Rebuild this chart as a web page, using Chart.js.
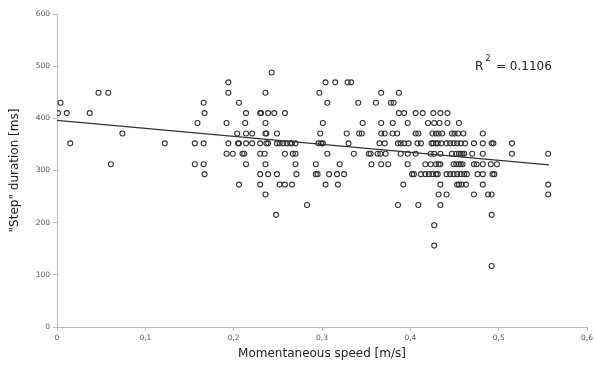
<!DOCTYPE html>
<html>
<head>
<meta charset="utf-8">
<script src="https://cdn.jsdelivr.net/npm/chart.js@4.4.1/dist/chart.umd.min.js"></script>
<style>
  html, body { margin: 0; padding: 0; background: #fff; }
  #wrap { width: 596px; height: 369px; }
</style>
</head>
<body>
<div id="wrap"><canvas id="my-chart" width="596" height="369"></canvas></div>
<script>
// step durations come in fixed steps (~19.5 ms), so points are grouped by row
const rowDurations = [488, 469, 449, 430, 410, 391, 371, 352, 332, 312, 293, 273, 254, 234, 215, 195, 156, 117];
const rowSpeeds = [
  [0.243],
  [0.194, 0.304, 0.315, 0.329, 0.333],
  [0.047, 0.058, 0.194, 0.236, 0.297, 0.367, 0.387],
  [0.004, 0.166, 0.206, 0.306, 0.341, 0.361, 0.378, 0.381],
  [0.001, 0.011, 0.037, 0.167, 0.214, 0.230, 0.231, 0.239, 0.246, 0.258, 0.387, 0.393, 0.406, 0.414, 0.426, 0.434, 0.442],
  [0.159, 0.192, 0.213, 0.236, 0.301, 0.346, 0.367, 0.380, 0.397, 0.420, 0.427, 0.433, 0.442, 0.455],
  [0.074, 0.204, 0.214, 0.221, 0.236, 0.237, 0.249, 0.298, 0.328, 0.342, 0.345, 0.367, 0.371, 0.380, 0.385, 0.406, 0.409, 0.425, 0.429, 0.432, 0.436, 0.447, 0.450, 0.454, 0.460, 0.482],
  [0.015, 0.122, 0.156, 0.166, 0.194, 0.205, 0.206, 0.214, 0.221, 0.230, 0.237, 0.239, 0.249, 0.252, 0.256, 0.260, 0.264, 0.266, 0.270, 0.296, 0.299, 0.301, 0.330, 0.365, 0.371, 0.386, 0.389, 0.393, 0.398, 0.408, 0.412, 0.424, 0.426, 0.429, 0.431, 0.435, 0.441, 0.445, 0.449, 0.453, 0.457, 0.462, 0.472, 0.482, 0.492, 0.494, 0.515],
  [0.192, 0.199, 0.210, 0.212, 0.230, 0.235, 0.258, 0.267, 0.270, 0.306, 0.336, 0.353, 0.355, 0.363, 0.366, 0.372, 0.389, 0.397, 0.406, 0.423, 0.427, 0.434, 0.447, 0.452, 0.455, 0.457, 0.459, 0.461, 0.470, 0.482, 0.515, 0.556],
  [0.061, 0.156, 0.166, 0.214, 0.236, 0.270, 0.293, 0.320, 0.356, 0.367, 0.375, 0.397, 0.417, 0.423, 0.429, 0.432, 0.434, 0.449, 0.452, 0.455, 0.457, 0.459, 0.472, 0.475, 0.482, 0.491, 0.498],
  [0.167, 0.230, 0.239, 0.249, 0.271, 0.293, 0.295, 0.308, 0.317, 0.325, 0.402, 0.404, 0.412, 0.417, 0.421, 0.425, 0.429, 0.431, 0.441, 0.445, 0.449, 0.453, 0.457, 0.461, 0.464, 0.476, 0.482, 0.493, 0.495],
  [0.206, 0.230, 0.252, 0.258, 0.266, 0.304, 0.318, 0.392, 0.434, 0.453, 0.455, 0.458, 0.463, 0.482, 0.556],
  [0.236, 0.432, 0.441, 0.472, 0.488, 0.492, 0.556],
  [0.283, 0.386, 0.409, 0.434],
  [0.248, 0.492],
  [0.427],
  [0.427],
  [0.492]
];

// linear trend as shown on the chart
const trendIntercept = 396;
const trendSlope = -153;
const trendRange = [0, 0.557];
const rSquared = "0.1106";

const xTicks = [0, 0.1, 0.2, 0.3, 0.4, 0.5, 0.6];
const yTicks = [0, 100, 200, 300, 400, 500, 600];

let points = [];
rowDurations.forEach((ms, i) => {
  rowSpeeds[i].forEach(s => points.push({ x: s, y: ms }));
});

const trendPoints = trendRange.map(x => ({ x: x, y: trendIntercept + trendSlope * x }));

const FONT = '"DejaVu Sans", Verdana, sans-serif';

// R squared label in the top right
const rLabel = {
  id: 'rLabel',
  afterDraw(chart) {
    const ctx = chart.ctx;
    ctx.save();
    ctx.fillStyle = '#222';
    ctx.textBaseline = 'alphabetic';
    ctx.font = '12px ' + FONT;
    ctx.fillText('R', 475, 69.5);
    ctx.font = '8px ' + FONT;
    ctx.fillText('2', 485.5, 61);
    ctx.font = '12px ' + FONT;
    ctx.fillText('= ' + rSquared, 496, 69.5);
    ctx.restore();
  }
};

const ctx = document.getElementById('my-chart').getContext('2d');
const myChart = new Chart(ctx, {
  type: 'scatter',
  data: {
    datasets: [
      {
        label: 'Step duration',
        data: points,
        pointStyle: 'circle',
        pointRadius: 2.5,
        pointBorderWidth: 1.1,
        pointBorderColor: '#333',
        pointBackgroundColor: 'rgba(255,255,255,0)',
      },
      {
        type: 'line',
        label: 'Trend',
        data: trendPoints,
        borderColor: '#333',
        borderWidth: 1.3,
        pointRadius: 0,
        fill: false,
      },
    ],
  },
  options: {
    responsive: false,
    animation: false,
    events: [],
    layout: { padding: { top: 14, right: 5, left: 0, bottom: 0 } },
    plugins: {
      legend: { display: false },
      tooltip: { enabled: false },
    },
    scales: {
      x: {
        type: 'linear',
        min: 0,
        max: 0.6,
        afterBuildTicks: scale => { scale.ticks = xTicks.map(v => ({ value: v })); },
        afterFit: scale => { scale.height = 42; },
        ticks: {
          color: '#555',
          font: { family: FONT, size: 7.5 },
          padding: 3,
          maxRotation: 0,
          callback: v => String(Math.round(v * 10) / 10).replace('.', ','),
        },
        grid: { drawOnChartArea: false, tickLength: 4, color: '#bbb' },
        border: { color: '#bbb', width: 1 },
        title: {
          display: true,
          text: 'Momentaneous speed [m/s]',
          color: '#222',
          font: { family: FONT, size: 12 },
          padding: { top: 0, bottom: 8 },
        },
      },
      y: {
        min: 0,
        max: 600,
        afterBuildTicks: scale => { scale.ticks = yTicks.map(v => ({ value: v })); },
        afterFit: scale => { scale.width = 57; },
        ticks: {
          color: '#555',
          font: { family: FONT, size: 7.5 },
          padding: 3,
        },
        grid: { drawOnChartArea: false, tickLength: 4, color: '#bbb' },
        border: { color: '#bbb', width: 1 },
        title: {
          display: true,
          text: '"Step" duration [ms]',
          color: '#222',
          font: { family: FONT, size: 12 },
          padding: { top: 8, bottom: 0 },
        },
      },
    },
  },
  plugins: [rLabel],
});
</script>
</body>
</html>
